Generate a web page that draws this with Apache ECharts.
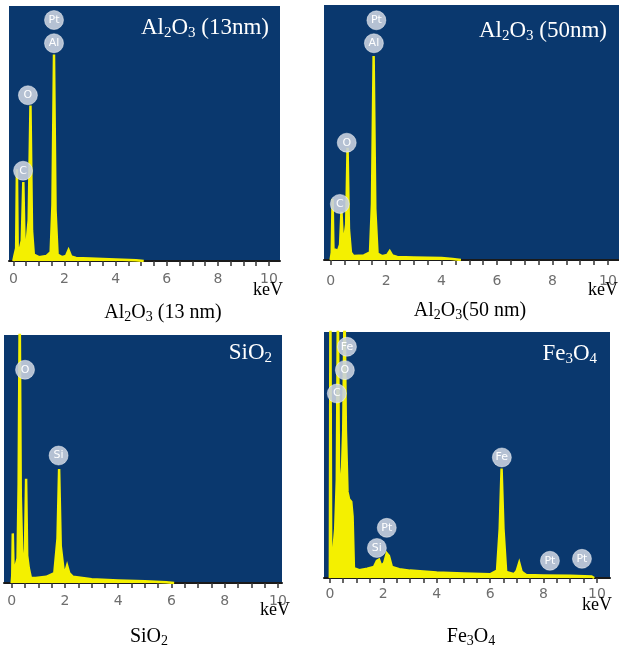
<!DOCTYPE html>
<html>
<head>
<meta charset="utf-8">
<title>EDX spectra</title>
<script src="https://cdn.jsdelivr.net/npm/echarts@6/dist/echarts.min.js"></script>
<style>
  html, body { margin: 0; padding: 0; background: #ffffff; }
  #chart { width: 619px; height: 652px; }
</style>
</head>
<body>
<div id="chart"></div>
<script>
// spectra: energy in keV, counts as % of panel height
const al13Energy = [0.00, 0.04, 0.11, 0.14, 0.17, 0.24, 0.33, 0.39, 0.44, 0.50, 0.60, 0.67, 0.73, 0.80, 1.00, 1.30, 1.46, 1.53, 1.59, 1.65, 1.73, 1.90, 2.06, 2.16, 2.26, 2.45, 3.00, 4.00, 4.80, 5.10];
const al13Counts = [0,    2,    5,    36,   5,    4,    8,    31,   6,    5,    16,   61,   12,   2.5,  1.5,  2,    3.5,  22,   81,   20,   2.5,  1.5,  2,    4.3,  1.8,  1.2,  1,    0.6,  0.3,  0];

const al50Energy = [0.00, 0.04, 0.07, 0.10, 0.18, 0.26, 0.34, 0.39, 0.45, 0.52, 0.56, 0.61, 0.66, 0.73, 0.82, 1.20, 1.42, 1.49, 1.55, 1.61, 1.69, 1.85, 2.04, 2.13, 2.22, 2.40, 3.00, 4.00, 4.40, 4.70];
const al50Counts = [0,    3,    24,   4,    4,    3.5,  6,    19,   5,    5,    14,   44,   12,   3,    1.6,  1.8,  3,    22,   80,   20,   2.5,  1.5,  2,    3.5,  1.8,  1.2,  1,    0.8,  0.4,  0];

const sio2Energy = [0.00, 0.02, 0.04, 0.07, 0.15, 0.22, 0.26, 0.30, 0.34, 0.40, 0.46, 0.50, 0.54, 0.58, 0.64, 0.72, 0.90, 1.30, 1.60, 1.72, 1.78, 1.84, 1.95, 2.00, 2.08, 2.16, 2.30, 3.00, 4.00, 5.00, 5.80, 6.10];
const sio2Counts = [0,    3,    20,   5,    7,    10,   40,   110,  35,   9,    8,    14,   42,   11,   6,    2,    2,    2.5,  4,    18,   46,   15,   5,    4,    7,    4,    2.5,  1.5,  1,    0.7,  0.3,  0];

const fe3o4Energy = [0.00, 0.02, 0.05, 0.12, 0.20, 0.26, 0.30, 0.34, 0.42, 0.50, 0.55, 0.60, 0.66, 0.72, 0.80, 0.85, 0.90, 1.10, 1.40, 1.65, 1.76, 1.84, 1.92, 2.03, 2.13, 2.21, 2.32, 2.60, 3.00, 4.00, 5.00, 6.00, 6.26, 6.36, 6.43, 6.50, 6.60, 6.90, 7.00, 7.09, 7.18, 7.35, 8.00, 9.00, 9.80, 9.90];
const fe3o4Counts = [0,    110,  3,    10,   20,   40,   110,  45,   32,   60,   110,  60,   35,   32,   31,   25,   4,    3.2,  3.8,  4.5,  7,    7.5,  5,    6,    10,   9,    4.5,  3.6,  3,    2.2,  1.8,  1.5,  3,    20,   44.5, 20,   2.5,  1.5,  3,    6.2,  2.5,  1.2,  1,    0.9,  0.6,  0];

// element badges: name, energy, height
const al13Peaks = ['Pt', 'Al', 'O', 'C'];
const al13PeakEnergy = [1.59, 1.59, 0.57, 0.38];
const al13PeakHeight = [94.5, 85.4, 65, 35.4];

const al50Peaks = ['Pt', 'Al', 'O', 'C'];
const al50PeakEnergy = [1.65, 1.56, 0.58, 0.33];
const al50PeakHeight = [94, 85, 46, 22];

const sio2Peaks = ['O', 'Si'];
const sio2PeakEnergy = [0.5, 1.76];
const sio2PeakHeight = [86, 51.4];

const fe3o4Peaks = ['Fe', 'O', 'C', 'Fe', 'Pt', 'Si', 'Pt', 'Pt'];
const fe3o4PeakEnergy = [0.64, 0.56, 0.26, 6.44, 2.13, 1.76, 8.24, 9.44];
const fe3o4PeakHeight = [94, 84.5, 75, 49, 20.4, 12.2, 7, 7.8];

// axis ticks
const tickValues = [0, 0.5, 1, 1.5, 2, 2.5, 3, 3.5, 4, 4.5, 5, 5.5, 6, 6.5, 7, 7.5, 8, 8.5, 9, 9.5, 10];
const labelValues = [0, 2, 4, 6, 8, 10];

const BLUE = '#0a386e';
const YELLOW = '#f4f000';
const SERIF = 'Liberation Serif';

const panels = [
  { box: { left: 9,   top: 6,   width: 271, height: 255 }, min: -0.17, max: 10.43, margin: 11,
    energy: al13Energy, counts: al13Counts, peaks: al13Peaks, pe: al13PeakEnergy, ph: al13PeakHeight },
  { box: { left: 324, top: 5,   width: 295, height: 255 }, min: -0.24, max: 10.4, margin: 14,
    energy: al50Energy, counts: al50Counts, peaks: al50Peaks, pe: al50PeakEnergy, ph: al50PeakHeight },
  { box: { left: 4,   top: 335, width: 278, height: 248 }, min: -0.29, max: 10.15, margin: 11,
    energy: sio2Energy, counts: sio2Counts, peaks: sio2Peaks, pe: sio2PeakEnergy, ph: sio2PeakHeight },
  { box: { left: 324, top: 332, width: 286, height: 246 }, min: -0.22, max: 10.49, margin: 9,
    energy: fe3o4Energy, counts: fe3o4Counts, peaks: fe3o4Peaks, pe: fe3o4PeakEnergy, ph: fe3o4PeakHeight }
];

const whiteRich = {
  n: { fontFamily: SERIF, fontSize: 23, lineHeight: 26, color: '#ffffff', fontWeight: 'normal' },
  s: { fontFamily: SERIF, fontSize: 15, lineHeight: 15, padding: [10, 0, 0, 0], color: '#ffffff', fontWeight: 'normal' }
};
const blackRich = {
  n: { fontFamily: SERIF, fontSize: 20, lineHeight: 24, color: '#000000', fontWeight: 'normal' },
  s: { fontFamily: SERIF, fontSize: 14, lineHeight: 14, padding: [9, 0, 0, 0], color: '#000000', fontWeight: 'normal' }
};

function label(text, left, top, align, rich) {
  return { text: text, left: left, top: top, textAlign: align, padding: 0, textStyle: { rich: rich } };
}
function keV(left, top) {
  return { text: 'keV', left: left, top: top, padding: 0,
    textStyle: { fontFamily: SERIF, fontSize: 18, fontWeight: 'normal', color: '#000000' } };
}

const titles = [
  label('{n|Al}{s|2}{n|O}{s|3}{n| (13nm)}', 269, 15, 'right', whiteRich),
  label('{n|Al}{s|2}{n|O}{s|3}{n| (50nm)}', 607, 18, 'right', whiteRich),
  label('{n|SiO}{s|2}', 272, 340, 'right', whiteRich),
  label('{n|Fe}{s|3}{n|O}{s|4}', 597, 341, 'right', whiteRich),
  label('{n|Al}{s|2}{n|O}{s|3}{n| (13 nm)}', 163, 301, 'center', blackRich),
  label('{n|Al}{s|2}{n|O}{s|3}{n|(50 nm)}', 470, 299, 'center', blackRich),
  label('{n|SiO}{s|2}', 149, 625, 'center', blackRich),
  label('{n|Fe}{s|3}{n|O}{s|4}', 471, 625, 'center', blackRich),
  keV(253, 281), keV(588, 281), keV(260, 601), keV(582, 596)
];

const chart = echarts.init(document.getElementById('chart'), null, { renderer: 'canvas' });

chart.setOption({
  animation: false,
  backgroundColor: '#ffffff',
  title: titles,
  grid: panels.map(p => Object.assign({
    show: true, backgroundColor: BLUE, borderWidth: 0, outerBoundsMode: 'none'
  }, p.box)),
  xAxis: panels.map((p, i) => ({
    gridIndex: i,
    type: 'value',
    min: p.min,
    max: p.max,
    axisLine: { show: true, onZero: false, lineStyle: { color: '#1a1a1a', width: 2 } },
    axisTick: { show: true, customValues: tickValues, length: 5, lineStyle: { color: '#333333', width: 1.5 } },
    axisLabel: { customValues: labelValues, margin: p.margin, color: '#6e6e6e', fontSize: 14, fontFamily: 'DejaVu Sans' },
    splitLine: { show: false }
  })),
  yAxis: panels.map((p, i) => ({
    gridIndex: i, type: 'value', min: 0, max: 100, show: false, splitLine: { show: false }
  })),
  series: panels.map((p, i) => ({
    type: 'line',
    xAxisIndex: i,
    yAxisIndex: i,
    data: p.energy.map((e, j) => [e, p.counts[j]]),
    symbol: 'none',
    clip: true,
    silent: true,
    lineStyle: { color: YELLOW, width: 2.5, join: 'miter' },
    areaStyle: { color: YELLOW, opacity: 1 },
    markPoint: {
      symbol: 'circle',
      symbolSize: 19,
      silent: true,
      itemStyle: { color: 'rgba(200,208,222,0.9)', borderColor: 'rgba(255,255,255,0.45)', borderWidth: 1 },
      label: { show: true, formatter: '{b}', color: '#ffffff', fontSize: 11, fontFamily: 'DejaVu Sans' },
      data: p.peaks.map((n, j) => ({ name: n, coord: [p.pe[j], p.ph[j]] }))
    }
  }))
});
</script>
</body>
</html>
